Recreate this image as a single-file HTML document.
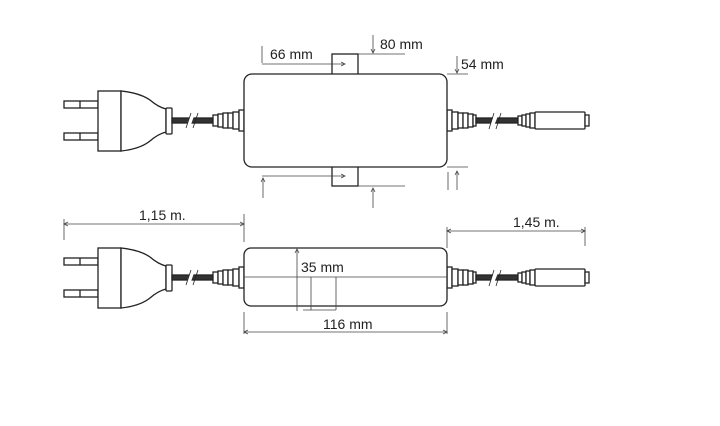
<!DOCTYPE html>
<html><head><style>
html,body{margin:0;padding:0;background:#fff;}
svg{display:block;}
text{font-family:"Liberation Sans",sans-serif;font-size:14px;fill:#222;}
</style></head><body>
<svg width="720" height="426" viewBox="0 0 720 426" xmlns="http://www.w3.org/2000/svg">
<defs>
<g id="plug" stroke="#222" stroke-width="1.3" fill="#fff">
  <rect x="64" y="101" width="34" height="7"/>
  <line x1="80" y1="101" x2="80" y2="108"/>
  <rect x="64" y="133" width="34" height="7"/>
  <line x1="80" y1="133" x2="80" y2="140"/>
  <rect x="98" y="91" width="23" height="60"/>
  <path d="M121 91 Q140 93 150 100 Q158 107 166 109 L166 132 Q158 134 150 141 Q140 149 121 151 Z"/>
  <rect x="166" y="108" width="6" height="26" rx="1"/>
  <rect x="172" y="118" width="41" height="5" fill="#333"/>
  <line x1="188" y1="127" x2="193" y2="113" stroke="#fff" stroke-width="4"/>
  <line x1="186" y1="128" x2="191" y2="113" stroke-width="0.8"/>
  <line x1="193" y1="128" x2="198" y2="113" stroke-width="0.8"/>
  <rect x="213" y="115" width="5" height="11"/>
  <rect x="218" y="114" width="5" height="13"/>
  <rect x="223" y="113" width="5" height="15"/>
  <rect x="228" y="113" width="5" height="15"/>
  <rect x="233" y="112" width="6" height="17"/>
  <rect x="239" y="110" width="5" height="21"/>
</g>
<g id="dc" stroke="#222" stroke-width="1.3" fill="#fff">
  <rect x="447" y="110" width="5" height="21"/>
  <rect x="452" y="112" width="6" height="17"/>
  <rect x="458" y="113" width="5" height="15"/>
  <rect x="463" y="113" width="5" height="15"/>
  <rect x="468" y="114" width="5" height="13"/>
  <rect x="473" y="115" width="3" height="11"/>
  <rect x="476" y="118" width="42" height="5" fill="#333"/>
  <line x1="491" y1="128" x2="497" y2="113" stroke="#fff" stroke-width="4"/>
  <line x1="489" y1="129" x2="494" y2="113" stroke-width="0.8"/>
  <line x1="496" y1="129" x2="501" y2="113" stroke-width="0.8"/>
  <rect x="518" y="116" width="4" height="9"/>
  <rect x="522" y="115" width="4" height="11"/>
  <rect x="526" y="114" width="4" height="13"/>
  <rect x="530" y="113" width="5" height="15"/>
  <rect x="535" y="112" width="50" height="17" rx="1"/>
  <rect x="585" y="115" width="4" height="11"/>
</g>
</defs>

<use href="#plug"/>
<use href="#dc"/>
<g stroke="#222" stroke-width="1.3" fill="#fff">
  <rect x="332" y="54" width="26" height="21"/>
  <rect x="332" y="166" width="26" height="20"/>
  <rect x="244" y="74" width="203" height="93" rx="8"/>
</g>
<g stroke="#444" stroke-width="0.8" fill="none">
  <line x1="262" y1="46" x2="262" y2="63"/>
  <line x1="262" y1="64" x2="345" y2="64"/>
  <path d="M341 62 L345 64 L341 66"/>
  <line x1="373" y1="35" x2="373" y2="53"/>
  <path d="M371 49 L373 53 L375 49"/>
  <line x1="358" y1="54" x2="405" y2="54"/>
  <line x1="457" y1="56" x2="457" y2="73"/>
  <path d="M455 69 L457 73 L459 69"/>
  <line x1="447" y1="74" x2="468" y2="74"/>
  <line x1="262" y1="176" x2="345" y2="176"/>
  <path d="M341 174 L345 176 L341 178"/>
  <line x1="263" y1="178" x2="263" y2="198"/>
  <path d="M261 182 L263 178 L265 182"/>
  <line x1="358" y1="186" x2="405" y2="186"/>
  <line x1="373" y1="188" x2="373" y2="208"/>
  <path d="M371 192 L373 188 L375 192"/>
  <line x1="447" y1="167" x2="468" y2="167"/>
  <line x1="448" y1="172" x2="448" y2="190"/>
  <line x1="457" y1="171" x2="457" y2="190"/>
  <path d="M455 175 L457 171 L459 175"/>
</g>
<text x="270" y="59">66 mm</text>
<text x="380" y="49">80 mm</text>
<text x="461" y="69">54 mm</text>

<use href="#plug" transform="translate(0,157)"/>
<use href="#dc" transform="translate(0,157)"/>
<g stroke="#222" stroke-width="1.3" fill="#fff">
  <rect x="244" y="248" width="203" height="58" rx="7"/>
</g>
<g stroke="#444" stroke-width="0.8" fill="none">
  <line x1="244" y1="277" x2="447" y2="277"/>
  <line x1="297" y1="249" x2="297" y2="311"/>
  <path d="M295 253 L297 249 L299 253"/>
  <line x1="311" y1="277" x2="311" y2="310"/>
  <line x1="336" y1="277" x2="336" y2="310"/>
  <line x1="303" y1="310" x2="336" y2="310"/>
  <line x1="64" y1="219" x2="64" y2="240"/>
  <line x1="244" y1="214" x2="244" y2="242"/>
  <line x1="64" y1="224" x2="244" y2="224"/>
  <path d="M68 222 L64 224 L68 226 M240 222 L244 224 L240 226"/>
  <line x1="447" y1="227" x2="447" y2="248"/>
  <line x1="585" y1="227" x2="585" y2="246"/>
  <line x1="447" y1="231" x2="585" y2="231"/>
  <path d="M451 229 L447 231 L451 233 M581 229 L585 231 L581 233"/>
  <line x1="244" y1="312" x2="244" y2="334"/>
  <line x1="447" y1="312" x2="447" y2="334"/>
  <line x1="244" y1="332" x2="447" y2="332"/>
  <path d="M248 330 L244 332 L248 334 M443 330 L447 332 L443 334"/>
</g>
<text x="139" y="220">1,15 m.</text>
<text x="513" y="227">1,45 m.</text>
<text x="301" y="272">35 mm</text>
<text x="323" y="329">116 mm</text>
</svg>
</body></html>
